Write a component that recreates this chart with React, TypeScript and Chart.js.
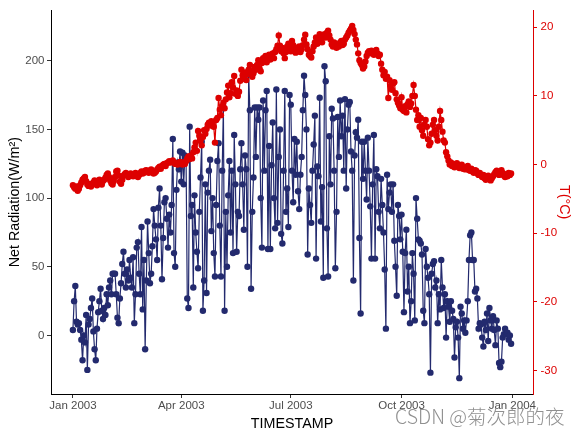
import React, { useEffect, useRef } from "react";
import { Chart, registerables } from "chart.js";

Chart.register(...registerables);

// x values are day-of-year indices starting at 1 Jan 2003
const X_TICK_DAYS = [0, 90, 181, 273, 365];
const X_TICK_LABELS = ["Jan 2003", "Apr 2003", "Jul 2003", "Oct 2003", "Jan 2004"];
const RAD_TICKS = [0, 50, 100, 150, 200];
const TEMP_TICKS = [-30, -20, -10, 0, 10, 20];

// Daily net radiation (W/m²), 1 Jan 2003 – 31 Dec 2003
const NET_RADIATION = [
  4, 25, 36, 10, 8, 9, 4, -3, -18, 0,
  -5, 15, -25, 8, 12, 20, 27, 3, -10, -18,
  5, 17, 25, 34, 18, 12, 20, 15, 30, 22,
  35, 40, 30, 45, 45, 45, 30, 13, 9, 27,
  38, 52, 61, 45, 35, 48, 40, 55, 42, 35,
  57, 9, 30, 64, 68, 45, 30, 79, 19, 55,
  -10, 40, 83, 60, 38, 45, 65, 92, 80, 70,
  55, 93, 107, 80, 41, 71, 97, 100, 85, 64,
  88, 75, 95, 143, 60, 50, 106, 126, 121, 134,
  112, 133, 110, 131, 128, 27, 20, 152, 87, 95,
  35, 102, 75, 61, 49, 90, 115, 141, 18, 40,
  110, 31, 104, 120, 128, 76, 100, 60, 43, 95,
  127, 140, 80, 43, 120, 166, 18, 90, 50, 102,
  127, 75, 120, 60, 146, 110, 61, 90, 87, 121,
  140, 110, 77, 131, 121, 50, 190, 164, 34, 90,
  115, 166, 130, 166, 157, 166, 100, 64, 171, 120,
  164, 178, 63, 138, 63, 124, 155, 100, 78, 179,
  82, 130, 150, 74, 67, 120, 178, 90, 107, 79,
  175, 168, 120, 97, 143, 117, 141, 105, 92, 117,
  130, 164, 189, 175, 150, 59, 107, 95, 82, 120,
  139, 160, 56, 123, 116, 173, 83, 108, 42, 196,
  185, 78, 43, 145, 110, 165, 158, 120, 49, 90,
  159, 130, 171, 145, 160, 120, 172, 107, 150, 168,
  170, 134, 120, 40, 131, 148, 144, 157, 71, 16,
  141, 114, 141, 120, 99, 144, 120, 94, 56, 110,
  146, 56, 121, 116, 90, 78, 114, 95, 75, 48,
  5, 117, 92, 104, 110, 90, 110, 69, 50, 29,
  95, 87, 70, 88, 61, 17, 60, 77, 32, 50,
  9, 25, 60, 45, 11, 100, 85, 70, 69, 67,
  59, 18, 9, 63, 50, 42, 30, -27, 45, 52,
  54, 35, 40, 9, 30, 19, 55, 35, 20, 30,
  -1.5, 25, 21, 10, 25, 18, 12, -16, 6, 10,
  -1.5, -31, 21, 16, 5, 11, 2, 11, 25, 55,
  73, 75, 55, 55, 32, 34, 27, 5, 9, 8,
  -1.5, -8, 10, 4, 16, -4, 20, 11, 5, 14,
  4, -7, 11, 5, -20, -23, -19, -1.5, 1, 5,
  1, 2, -3, 0, -6,
];

// Daily air temperature (°C), 1 Jan 2003 – 31 Dec 2003
const TEMPERATURE = [
  -3.0, -3.3, -3.5, -3.2, -3.8, -3.5, -3.0, -2.6, -2.2, -2.0,
  -1.8, -2.4, -2.9, -3.1, -2.8, -3.2, -2.9, -2.6, -2.3, -2.8,
  -3.0, -2.5, -2.2, -2.6, -2.9, -2.4, -2.2, -1.9, -1.5, -1.3,
  -1.8, -2.3, -2.7, -2.9, -2.4, -1.8, -1.0, -0.9, -1.6, -2.5,
  -2.8, -2.2, -1.6, -1.4, -1.2, -1.5, -1.8, -1.6, -1.3, -1.4,
  -1.7, -1.5, -1.2, -1.6, -1.8, -1.5, -1.2, -1.0, -1.3, -1.2,
  -0.9, -0.8, -1.0, -1.2, -0.9, -0.7, -1.0, -1.3, -1.2, -1.0,
  -0.7, -0.5, -0.3, -0.6, -0.2, 0.0, 0.1, -0.2, 0.2, 0.3,
  0.5, 0.3, 0.4, 0.6, 0.3, 0.1, 0.2, 0.0, 0.1, 0.4,
  0.2, 0.0, 0.3, 0.1, 0.5, 0.9, 1.2, 0.8, 1.3, 0.9,
  1.8, 2.5, 3.2, 2.0, 4.9, 4.2, 3.5, 2.8, 4.0, 5.0,
  4.5, 5.2, 5.8, 6.1, 5.7, 6.3, 6.0, 5.5, 3.2, 6.5,
  6.8, 9.7, 8.0, 7.2, 8.5, 9.0, 8.2, 9.5, 10.5, 11.5,
  9.8, 10.4, 12.0, 11.2, 12.9, 10.3, 10.8, 10.0, 10.6, 12.2,
  13.8, 13.0, 12.5, 13.4, 12.3, 13.2, 13.8, 14.5, 13.6, 12.8,
  13.3, 14.2, 13.8, 14.5, 15.2, 14.0, 13.6, 14.8, 15.5, 15.0,
  15.8, 14.9, 15.4, 16.0, 15.3, 15.7, 16.2, 15.5, 16.4, 16.8,
  17.3, 18.8, 17.3, 16.5, 17.0, 16.2, 15.5, 16.4, 17.2, 17.6,
  17.0, 16.5, 18.0, 17.4, 16.8, 16.3, 17.0, 16.5, 17.2, 16.4,
  16.8, 17.4, 18.2, 18.9, 17.5, 16.8, 16.0, 15.8, 15.6, 16.5,
  17.2, 17.8, 18.5, 17.6, 18.2, 19.0, 18.4, 17.8, 18.6, 19.0,
  18.5, 19.2, 19.5, 18.8, 18.2, 17.5, 17.2, 17.8, 17.3, 17.0,
  17.5, 17.2, 17.8, 18.0, 17.4, 17.6, 18.2, 18.5, 18.8, 19.2,
  19.5, 19.8, 20.2, 19.6, 19.0, 18.2, 17.5, 16.2, 15.2, 14.8,
  14.5, 14.0, 14.3, 15.0, 15.8, 16.3, 16.5, 16.2, 16.6, 16.4,
  16.0, 16.4, 16.7, 16.2, 15.8, 16.0, 14.7, 13.8, 13.0, 13.5,
  12.5, 12.8, 9.7, 12.3, 11.5, 10.9, 11.8, 12.0, 10.4, 9.5,
  9.0, 8.6, 8.2, 9.8, 8.0, 7.8, 8.5, 7.6, 8.8, 9.2,
  8.4, 8.9, 10.0, 11.6, 10.0, 8.0, 6.5, 7.2, 5.5, 6.8,
  5.0, 4.2, 5.8, 6.5, 5.5, 3.7, 2.8, 3.2, 4.5, 5.8,
  6.5, 5.0, 4.2, 3.5, 5.5, 7.8, 6.5, 4.8, 3.5, 3.2,
  1.8, 1.2, 0.6, 0.0, 0.3, -0.2, 0.1, -0.4, -0.2, 0.2,
  -0.1, -0.5, -0.3, 0.0, -0.6, -0.4, -0.7, -0.5, -0.2, -0.8,
  -0.9, -0.6, -1.0, -1.2, -0.8, -0.9, -1.3, -1.5, -1.2, -1.6,
  -1.8, -1.5, -2.0, -2.2, -1.9, -1.6, -2.1, -2.3, -2.0, -1.7,
  -1.4, -1.1, -0.9, -1.2, -1.5, -1.1, -0.8, -1.2, -1.6, -1.8,
  -1.4, -1.7, -1.2, -1.5, -1.3,
];

const NAVY = "#232A6E";
const RED = "#DD0000";
const TICK_GREY = "#4D4D4D";
const FONT = "'Liberation Sans', Arial, Helvetica, sans-serif";

export default function App() {
  const ref = useRef<HTMLCanvasElement | null>(null);

  useEffect(() => {
    const canvas = ref.current;
    if (!canvas) return;
    const radPts = NET_RADIATION.map((v, i) => ({ x: i, y: v }));
    const tempPts = TEMPERATURE.map((v, i) => ({ x: i, y: v }));

    const chart = new Chart(canvas, {
      type: "line",
      data: {
        datasets: [
          {
            label: "T(°C)",
            data: tempPts,
            yAxisID: "y2",
            borderColor: RED,
            backgroundColor: RED,
            pointBackgroundColor: RED,
            pointBorderWidth: 0,
            pointRadius: 3.2,
            borderWidth: 1.2,
            tension: 0,
            order: 0,
          },
          {
            label: "Net Radiation",
            data: radPts,
            yAxisID: "y",
            borderColor: NAVY,
            backgroundColor: NAVY,
            pointBackgroundColor: NAVY,
            pointBorderWidth: 0,
            pointRadius: 3.2,
            borderWidth: 1.2,
            tension: 0,
            order: 1,
          },
        ],
      },
      options: {
        animation: false,
        responsive: false,
        layout: { padding: { top: 7, left: 0, right: 0, bottom: 0 } },
        plugins: { legend: { display: false }, tooltip: { enabled: false } },
        scales: {
          x: {
            type: "linear",
            min: -18.2,
            max: 382.2,
            afterBuildTicks: (s: any) => {
              s.ticks = X_TICK_DAYS.map((v) => ({ value: v }));
            },
            afterFit: (s: any) => {
              s.height = 43;
            },
            ticks: {
              callback: (_v: any, i: number) => X_TICK_LABELS[i],
              font: { family: FONT, size: 11.5 },
              color: TICK_GREY,
              padding: 1,
              maxRotation: 0,
              autoSkip: false,
            },
            grid: { drawOnChartArea: false, drawTicks: true, tickLength: 4, color: "#333333" },
            border: { display: true, color: "#000000", width: 1 },
            title: {
              display: true,
              text: "TIMESTAMP",
              font: { family: FONT, size: 14.3 },
              color: "#000000",
              padding: { top: 0, bottom: 4.6 },
            },
          },
          y: {
            type: "linear",
            position: "left",
            min: -42.55,
            max: 236.6,
            afterBuildTicks: (s: any) => {
              s.ticks = RAD_TICKS.map((v) => ({ value: v }));
            },
            afterFit: (s: any) => {
              s.width = 51;
            },
            ticks: {
              font: { family: FONT, size: 11.5 },
              color: TICK_GREY,
              padding: 2.5,
            },
            grid: { drawOnChartArea: false, drawTicks: true, tickLength: 4, color: "#333333" },
            border: { display: true, color: "#000000", width: 1 },
            title: {
              display: true,
              text: "Net Radiation(W/m²)",
              font: { family: FONT, size: 14.3 },
              color: "#000000",
              padding: { top: 6.6, bottom: 0 },
            },
          },
          y2: {
            type: "linear",
            position: "right",
            min: -33.4,
            max: 22.45,
            afterBuildTicks: (s: any) => {
              s.ticks = TEMP_TICKS.map((v) => ({ value: v }));
            },
            afterFit: (s: any) => {
              s.width = 49;
            },
            ticks: {
              font: { family: FONT, size: 11.5 },
              color: RED,
              padding: 3.5,
            },
            grid: { drawOnChartArea: false, drawTicks: true, tickLength: 4, color: RED },
            border: { display: true, color: RED, width: 1 },
            title: {
              display: true,
              text: "T(°C)",
              font: { family: FONT, size: 14.3 },
              color: RED,
              padding: { top: 9, bottom: 0 },
            },
          },
        },
      },
    } as any);

    return () => chart.destroy();
  }, []);

  return (
    <div style={{ position: "absolute", left: 0, top: 0, width: 582, height: 437, background: "#ffffff" }}>
      <canvas ref={ref} width={582} height={437} style={{ display: "block", width: 582, height: 437 }} />
      <div
        style={{
          position: "absolute",
          left: 395,
          top: 406,
          fontFamily: "'Noto Sans CJK SC', 'Liberation Sans', sans-serif",
          fontSize: 19.5,
          fontWeight: 300,
          lineHeight: "20px",
          color: "#909090",
          whiteSpace: "nowrap",
        }}
      >
        CSDN @菊次郎的夜
      </div>
    </div>
  );
}
